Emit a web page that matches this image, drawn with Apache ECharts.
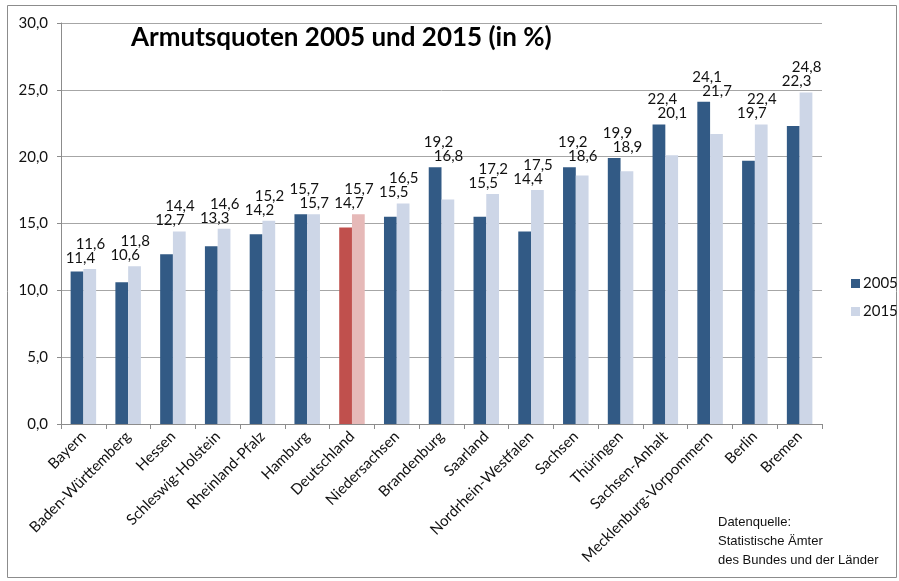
<!DOCTYPE html>
<html>
<head>
<meta charset="utf-8">
<script src="https://cdn.jsdelivr.net/npm/echarts@6/dist/echarts.min.js"></script>
<style>
  html, body { margin: 0; padding: 0; background: #fff; }
  #chart { width: 899px; height: 581px; }
</style>
</head>
<body>
<div id="chart"></div>
<script>
// Armutsquoten nach Bundesland
const regions = ['Bayern', 'Baden-Württemberg', 'Hessen', 'Schleswig-Holstein', 'Rheinland-Pfalz',
  'Hamburg', 'Deutschland', 'Niedersachsen', 'Brandenburg', 'Saarland', 'Nordrhein-Westfalen',
  'Sachsen', 'Thüringen', 'Sachsen-Anhalt', 'Mecklenburg-Vorpommern', 'Berlin', 'Bremen'];
const quote2005 = [11.4, 10.6, 12.7, 13.3, 14.2, 15.7, 14.7, 15.5, 19.2, 15.5, 14.4, 19.2, 19.9, 22.4, 24.1, 19.7, 22.3];
const quote2015 = [11.6, 11.8, 14.4, 14.6, 15.2, 15.7, 15.7, 16.5, 16.8, 17.2, 17.5, 18.6, 18.9, 20.1, 21.7, 22.4, 24.8];
const yTicks = [0, 5, 10, 15, 20, 25, 30];
const highlight = 'Deutschland';

const fmt = (v) => v.toFixed(1).replace('.', ',');
const FONT = 'Lato';

const colors = {
  dark: '#325A85',
  light: '#CDD6E7',
  darkRed: '#C0504D',
  lightRed: '#E6B9B8'
};

const barData = (values, normal, special) => values.map((v, i) => ({
  value: v,
  itemStyle: { color: regions[i] === highlight ? special : normal }
}));

// Value labels: both numbers stacked above the higher bar of each pair,
// the higher value on top, 2005 slightly left, 2015 slightly right
const labelRows = regions.map((r, i) => [i, quote2005[i], quote2015[i]]);

function renderLabels(params, api) {
  const a = api.value(1);
  const b = api.value(2);
  const top = api.coord([api.value(0), Math.max(a, b)]);
  const aUpper = a >= b;
  const text = (v, dx, dy) => ({
    type: 'text',
    x: top[0] + dx,
    y: top[1] + dy,
    style: {
      text: fmt(v),
      fill: '#111',
      font: '15px ' + FONT,
      align: 'center',
      verticalAlign: 'middle'
    }
  });
  return {
    type: 'group',
    children: [
      text(a, -3, aUpper ? -25 : -11),
      text(b, 7, aUpper ? -11 : -25)
    ]
  };
}

const chart = echarts.init(document.getElementById('chart'));

chart.setOption({
  animation: false,
  backgroundColor: '#fff',
  graphic: [
    {
      type: 'rect',
      shape: { x: 7.5, y: 5.5, width: 889, height: 572 },
      style: { fill: 'none', stroke: '#8c8c8c', lineWidth: 1 }
    },
    {
      type: 'text',
      left: 718,
      top: 513,
      style: {
        text: 'Datenquelle:\nStatistische Ämter\ndes Bundes und der Länder',
        font: '13px "Liberation Sans"',
        lineHeight: 19,
        fill: '#111'
      }
    }
  ],
  title: {
    text: 'Armutsquoten 2005 und 2015 (in %)',
    left: 126,
    top: 20,
    textStyle: {
      fontFamily: FONT,
      fontSize: 26,
      fontWeight: 'bold',
      color: '#000'
    }
  },
  legend: {
    data: ['2005', '2015'],
    orient: 'vertical',
    left: 846,
    top: 271,
    icon: 'rect',
    itemWidth: 9,
    itemHeight: 9,
    itemGap: 13,
    itemStyle: { borderWidth: 0 },
    textStyle: { fontFamily: FONT, fontSize: 15, color: '#111', padding: [0, 0, 0, -2] }
  },
  grid: {
    left: 61,
    right: 77,
    top: 23,
    bottom: 157
  },
  xAxis: {
    type: 'category',
    data: regions,
    axisLine: { lineStyle: { color: '#8c8c8c' } },
    axisTick: { show: true, length: 5, lineStyle: { color: '#8c8c8c' } },
    axisLabel: {
      rotate: 45,
      interval: 0,
      margin: 10,
      color: '#111',
      fontFamily: FONT,
      fontSize: 15
    }
  },
  yAxis: {
    type: 'value',
    min: yTicks[0],
    max: yTicks[yTicks.length - 1],
    interval: 5,
    axisLine: { show: true, lineStyle: { color: '#8c8c8c' } },
    axisTick: { show: true, length: 4, lineStyle: { color: '#8c8c8c' } },
    axisLabel: {
      formatter: (v) => fmt(v),
      color: '#111',
      fontFamily: FONT,
      fontSize: 15,
      margin: 13
    },
    splitLine: { lineStyle: { color: '#a6a6a6' } }
  },
  series: [
    {
      type: 'bar',
      name: '2005',
      barGap: '0%',
      barCategoryGap: '43%',
      itemStyle: { color: colors.dark },
      data: barData(quote2005, colors.dark, colors.darkRed)
    },
    {
      type: 'bar',
      name: '2015',
      itemStyle: { color: colors.light },
      data: barData(quote2015, colors.light, colors.lightRed)
    },
    {
      type: 'custom',
      name: 'labels',
      silent: true,
      z: 5,
      renderItem: renderLabels,
      encode: { x: 0, y: [1, 2] },
      data: labelRows
    }
  ]
});
</script>
</body>
</html>
